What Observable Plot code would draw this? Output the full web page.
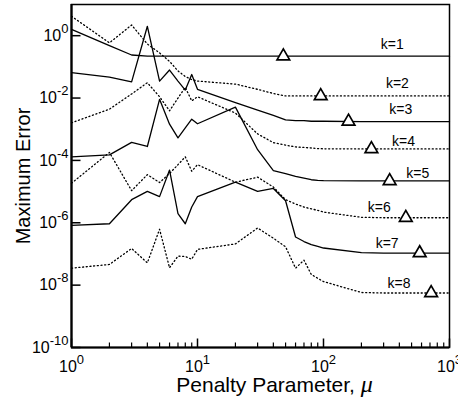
<!DOCTYPE html>
<html>
<head>
<meta charset="utf-8">
<script src="https://cdn.jsdelivr.net/npm/d3@7"></script>
<script src="https://cdn.jsdelivr.net/npm/@observablehq/plot@0.6"></script>
<style>
  html, body { margin: 0; padding: 0; background: white; }
  #chart svg { display: block; }
</style>
</head>
<body>
<div id="chart"></div>
<script>
// Penalty parameter grid
const mu = [1, 2, 3, 4, 5, 6, 7, 8, 9, 10,
            20, 30, 40, 50, 60, 70, 80, 90, 100,
            200, 300, 400, 500, 600, 700, 800, 900, 1000];

// Maximum error for each k
const k1 = [1.6, 0.48, 0.24, 0.22, 0.22, 0.22, 0.22, 0.22, 0.22, 0.22,
            0.22, 0.22, 0.22, 0.22, 0.22, 0.22, 0.22, 0.22, 0.22,
            0.22, 0.22, 0.22, 0.22, 0.22, 0.22, 0.22, 0.22, 0.22];
const k2 = [4.2, 0.59, 2.2, 0.54, 0.28, 0.15, 0.074, 0.049, 0.039, 0.035,
            0.028, 0.019, 0.014, 0.0117, 0.0117, 0.0117, 0.0117, 0.0117, 0.0117,
            0.0117, 0.0117, 0.0117, 0.0117, 0.0117, 0.0117, 0.0117, 0.0117, 0.0117];
const k3 = [0.065, 0.047, 0.033, 2.0, 0.035, 0.079, 0.035, 0.018, 0.057, 0.019,
            0.0071, 0.0041, 0.0028, 0.0020, 0.0019, 0.0019, 0.0018, 0.0018, 0.0018,
            0.00176, 0.00176, 0.00176, 0.00176, 0.00176, 0.00176, 0.00176, 0.00176, 0.00176];
const k4 = [0.0016, 0.0044, 0.0135, 0.031, 0.011, 0.0039, 0.010, 0.022, 0.0081, 0.011,
            0.0033, 0.00071, 0.00037, 0.00031, 0.00027, 0.00026, 0.00025, 0.00024, 0.000236,
            0.000234, 0.000234, 0.000234, 0.000234, 0.000234, 0.000234, 0.000234, 0.000234, 0.000234];
const k5 = [1.3e-4, 1.5e-4, 3.8e-4, 2.8e-4, 9.1e-3, 1.45e-3, 5.3e-4, 1.1e-3, 2.1e-3, 1.5e-3,
            5.1e-3, 2.2e-4, 4.7e-5, 3.8e-5, 3.1e-5, 2.7e-5, 2.4e-5, 2.3e-5, 2.24e-5,
            2.2e-5, 2.2e-5, 2.2e-5, 2.2e-5, 2.2e-5, 2.2e-5, 2.2e-5, 2.2e-5, 2.2e-5];
const k6 = [1.85e-5, 1.8e-4, 1.07e-5, 3.5e-5, 1.95e-5, 3.8e-5, 7.3e-5, 1.3e-4, 4.5e-5, 7.3e-5,
            2.0e-5, 2.9e-5, 1.4e-5, 5.5e-6, 4.0e-6, 3.2e-6, 2.8e-6, 2.5e-6, 2.2e-6,
            1.5e-6, 1.45e-6, 1.45e-6, 1.45e-6, 1.45e-6, 1.45e-6, 1.45e-6, 1.45e-6, 1.45e-6];
const k7 = [8.2e-7, 9.3e-7, 5.5e-6, 1.02e-5, 6.9e-6, 4.9e-5, 1.95e-6, 9.3e-7, 3.2e-6, 6.9e-6,
            2.0e-5, 1.02e-5, 1.26e-5, 5.1e-6, 3.5e-7, 2.5e-7, 2.0e-7, 1.74e-7, 1.55e-7,
            1.1e-7, 1.07e-7, 1.07e-7, 1.07e-7, 1.07e-7, 1.07e-7, 1.07e-7, 1.07e-7, 1.07e-7];
const k8 = [3.5e-8, 4.6e-8, 1.5e-7, 5.2e-8, 6.2e-7, 3.6e-8, 8.5e-8, 8.3e-8, 6.8e-8, 1.4e-7,
            2.1e-7, 6.8e-7, 3.2e-7, 1.7e-7, 3.5e-8, 6.3e-8, 2.2e-8, 1.66e-8, 1.3e-8,
            5.8e-9, 5.6e-9, 5.6e-9, 5.6e-9, 5.6e-9, 5.6e-9, 5.6e-9, 5.6e-9, 5.6e-9];

// Triangle markers (penalty value on each curve)
const markerMu = [48, 95, 158, 240, 335, 450, 580, 715];

// Curve labels and their anchor points
const labelText = ["k=1", "k=2", "k=3", "k=4", "k=5", "k=6", "k=7", "k=8"];
const labelMu = [351, 386, 410, 432, 560, 277, 320, 398];
const labelErr = [0.52, 0.030, 0.0042, 3.9e-4, 3.8e-5, 3.1e-6, 2.1e-7, 1.1e-8];

// Axis ticks
const xMajor = [1, 10, 100, 1000];
const xMinor = [2, 3, 4, 5, 6, 7, 8, 9, 20, 30, 40, 50, 60, 70, 80, 90, 200, 300, 400, 500, 600, 700, 800, 900];
const yMajor = [1, 1e-2, 1e-4, 1e-6, 1e-8, 1e-10];

const xLabel = "Penalty Parameter, μ";
const yLabel = "Maximum Error";

// ---- build tables ----
const series = [k1, k2, k3, k4, k5, k6, k7, k8];
const rows = series.flatMap((vals, i) => mu.map((m, j) => ({mu: m, err: vals[j], k: i + 1})));
const solidRows = rows.filter(d => d.k % 2 === 1);
const dottedRows = rows.filter(d => d.k % 2 === 0);

function interpLog(vals, m) {
  const lm = Math.log10(m);
  for (let j = 0; j < mu.length - 1; j++) {
    if (m >= mu[j] && m <= mu[j + 1]) {
      const a = Math.log10(mu[j]), b = Math.log10(mu[j + 1]);
      const t = (lm - a) / (b - a);
      return Math.pow(10, Math.log10(vals[j]) * (1 - t) + Math.log10(vals[j + 1]) * t);
    }
  }
  return vals[vals.length - 1];
}
const markers = markerMu.map((m, i) => ({mu: m, err: interpLog(series[i], m)}));
const labels = labelText.map((t, i) => ({text: t, mu: labelMu[i], err: labelErr[i]}));

const tickUp = len => ({draw(ctx) { ctx.moveTo(0, 0); ctx.lineTo(0, -len); }});
const tickRight = len => ({draw(ctx) { ctx.moveTo(0, 0); ctx.lineTo(len, 0); }});
const pow10 = d => "10^" + Math.round(Math.log10(d));

const font = "'Liberation Sans', Arial, Helvetica, sans-serif";

const svg = Plot.plot({
  width: 458,
  height: 404,
  marginLeft: 71,
  marginRight: 9,
  marginTop: 4,
  marginBottom: 57,
  x: {type: "log", domain: [1, 1000]},
  y: {type: "log", domain: [1e-10, 10]},
  style: {fontFamily: font, fontSize: "16px", color: "black", background: "white"},
  marks: [
    Plot.line(solidRows, {x: "mu", y: "err", z: "k", stroke: "black", strokeWidth: 1.3}),
    Plot.line(dottedRows, {x: "mu", y: "err", z: "k", stroke: "black", strokeWidth: 1.3, strokeDasharray: "1.1,2.6"}),
    Plot.dot(markers, {x: "mu", y: "err", symbol: "triangle", r: 4.7, stroke: "black", fill: "white", strokeWidth: 1.7}),
    Plot.text(labels, {x: "mu", y: "err", text: "text", fontSize: 14, fill: "black"}),
    Plot.frame({stroke: "black", strokeWidth: 1.5}),
    Plot.ruleX([xMajor[0]], {stroke: "black", strokeWidth: 2.2}),
    Plot.ruleY([yMajor[yMajor.length - 1]], {stroke: "black", strokeWidth: 2.2}),
    Plot.dot(xMinor, {x: d => d, frameAnchor: "bottom", symbol: tickUp(5), r: 1, fill: "none", stroke: "black", strokeWidth: 1.2}),
    Plot.dot(xMajor, {x: d => d, frameAnchor: "bottom", symbol: tickUp(9), r: 1, fill: "none", stroke: "black", strokeWidth: 1.5}),
    Plot.dot(yMajor, {y: d => d, frameAnchor: "left", symbol: tickRight(9), r: 1, fill: "none", stroke: "black", strokeWidth: 1.5}),
    Plot.axisX({ticks: xMajor, tickSize: 0, tickPadding: 13, tickFormat: pow10, fontSize: 16, label: null}),
    Plot.axisY({ticks: yMajor, tickSize: 0, tickPadding: 3, tickFormat: pow10, fontSize: 16, label: null}),
    Plot.text([xLabel], {frameAnchor: "bottom", lineAnchor: "middle", textAnchor: "middle", dy: 38, dx: 14, fontSize: 21, text: d => d}),
    Plot.text([yLabel], {frameAnchor: "left", lineAnchor: "middle", textAnchor: "middle", dx: -48, rotate: -90, fontSize: 20, text: d => d})
  ]
});

// superscripts for tick labels, italic mu for the axis label
const NS = "http://www.w3.org/2000/svg";
svg.querySelectorAll("text").forEach(t => {
  const s = t.textContent;
  const m = s.match(/^10\^(-?\d+)$/);
  if (m) {
    t.textContent = "";
    const a = document.createElementNS(NS, "tspan");
    a.textContent = "10";
    const b = document.createElementNS(NS, "tspan");
    b.textContent = m[1];
    b.setAttribute("dy", "-8");
    b.setAttribute("font-size", "13");
    t.append(a, b);
  } else if (s === xLabel) {
    t.textContent = "";
    const a = document.createElementNS(NS, "tspan");
    a.textContent = "Penalty Parameter, ";
    const b = document.createElementNS(NS, "tspan");
    b.textContent = "μ";
    b.setAttribute("font-style", "italic");
    b.setAttribute("font-family", "'Liberation Serif', 'DejaVu Serif', serif");
    b.setAttribute("font-size", "24");
    t.append(a, b);
  }
});

document.getElementById("chart").append(svg);
</script>
</body>
</html>
